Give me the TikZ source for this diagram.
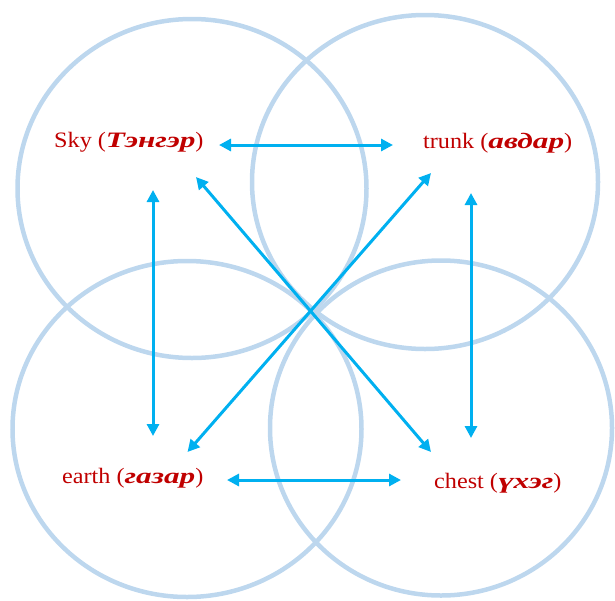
\documentclass[tikz,border=0pt]{standalone}
\usepackage{fontspec}
\setmainfont{Liberation Serif}
\newfontfamily\latw[FakeStretch=1.1]{Liberation Serif}
\newfontfamily\cyrw[FakeStretch=1.42,UprightFont={* Bold Italic}]{Liberation Serif}
\newcommand{\cy}[1]{{\cyrw #1}}
\usetikzlibrary{arrows.meta}
\definecolor{ringblue}{HTML}{BDD7EE}
\definecolor{arrowblue}{HTML}{00B0F0}
\definecolor{labelred}{HTML}{C00000}
\begin{document}
\begin{tikzpicture}[x=1pt,y=-1pt,
  ring/.style={draw=ringblue,line width=4.5pt},
  arr/.style={draw=arrowblue,line width=3pt,{Triangle[length=12pt,width=12pt]}-{Triangle[length=12pt,width=12pt]}},
  lbl/.style={text=labelred,font=\latw\fontsize{22}{26}\selectfont,anchor=base west,inner sep=0pt}]
\useasboundingbox (0,0) rectangle (615,600);
% circles
\draw[ring] (192,188.5) ellipse [x radius=174.5,y radius=169.5];
\draw[ring] (425,182) ellipse [x radius=173,y radius=167];
\draw[ring] (187,429) ellipse [x radius=174.5,y radius=168];
\draw[ring] (441,428) ellipse [x radius=171,y radius=167.5];
% labels
\node[lbl] (sky) at (54,147) {Sky (\cy{Тэнгэр})};
\node[lbl] (trunk) at (423,148) {trunk (\cy{авдар})};
\node[lbl] (earth) at (62,483) {earth (\cy{газар})};
\node[lbl] (chest) at (434,488) {chest (\cy{үхэг})};
% arrow end points
\coordinate (skyR) at (219,145);
\coordinate (trunkL) at (393,145);
\coordinate (earthR) at (227,480);
\coordinate (chestL) at (401,480);
\coordinate (skyB) at (153,190);
\coordinate (earthT) at (153,436);
\coordinate (trunkB) at (471,193);
\coordinate (chestT) at (471,438);
\coordinate (skyD) at (196,177);
\coordinate (chestU) at (431,452);
\coordinate (trunkD) at (431,173);
\coordinate (earthU) at (187.5,452);
% connectors
\draw[arr] (skyR) -- (trunkL);
\draw[arr] (earthR) -- (chestL);
\draw[arr] (skyB) -- (earthT);
\draw[arr] (trunkB) -- (chestT);
\draw[arr] (skyD) -- (chestU);
\draw[arr] (trunkD) -- (earthU);
\end{tikzpicture}
\end{document}
